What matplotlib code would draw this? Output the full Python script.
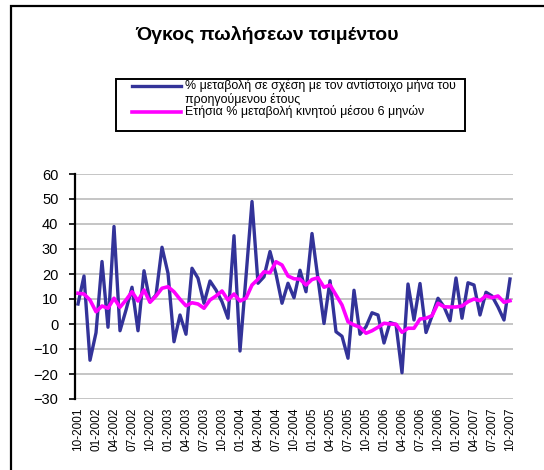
"""Cement sales volume chart (Greek), Excel-style line chart"""

import matplotlib
matplotlib.use('Agg')
import matplotlib.pyplot as plt
import matplotlib.patches as patches
from matplotlib.lines import Line2D
import numpy as np

plt.rcParams['font.family'] = ['Liberation Sans', 'DejaVu Sans']

# --- data -------------------------------------------------------------
title = 'Όγκος πωλήσεων τσιμέντου'
series_names = [
    '% μεταβολή σε σχέση με τον αντίστοιχο μήνα του\nπροηγούμενου έτους',
    'Ετήσια % μεταβολή κινητού μέσου 6 μηνών',
]

# one tick label every 3 months, 10-2001 .. 10-2007
tick_labels = [
    '10-2001', '01-2002', '04-2002', '07-2002', '10-2002', '01-2003',
    '04-2003', '07-2003', '10-2003', '01-2004', '04-2004', '07-2004',
    '10-2004', '01-2005', '04-2005', '07-2005', '10-2005', '01-2006',
    '04-2006', '07-2006', '10-2006', '01-2007', '04-2007', '07-2007',
    '10-2007',
]

# monthly % change vs same month of previous year
yoy_change = [
    8, 19.2, -14.5, -3.5, 25, -1.3, 39, -2.7, 5.6, 14.7,
    -2.7, 21.3, 8.9, 11.6, 30.7, 20.3, -7.1, 3.6, -4.1, 22.3,
    18.3, 8.3, 17.2, 13.6, 8.9, 2.3, 35.3, -10.8, 19, 49,
    16.3, 18.9, 29, 20, 8.3, 16.3, 10.5, 21.5, 12.9, 36.2,
    18, 0.2, 17.3, -3.1, -4.9, -13.7, 13.5, -4.1, -1.1, 4.5,
    3.6, -7.6, 0.6, -0.2, -19.5, 16, 1.6, 16.2, -3.4, 3.2,
    10.3, 6.9, 1.3, 18.4, 2.3, 16.5, 15.6, 3.6, 12.7, 11.2,
    6.8, 1.6, 18,
]

# annual % change of 6-month moving average
moving_avg = [
    12.3, 12, 9.6, 4.9, 7.2, 6.3, 10.3, 6.7, 9.6, 12.9,
    9.2, 13.6, 8.7, 11.2, 14.3, 14.9, 12.9, 9.9, 7.3, 8.5,
    8, 6.3, 9.6, 11.2, 13.2, 9.6, 12, 9.2, 10.3, 15.6,
    17.9, 20.9, 20.5, 24.9, 23.6, 19.2, 18.1, 17.9, 15.6, 17.8,
    18.5, 14.7, 15.6, 11.6, 7.6, 0.9, -0.4, -1.3, -3.7, -2.7,
    -1.3, 0.3, 0, -0.1, -3.3, -1.7, -1.7, 2, 2.3, 3.3,
    8.3, 6.9, 6.8, 6.8, 7.2, 8.9, 10, 9.3, 11.3, 10.5,
    11.2, 8.7, 9.3,
]

y_ticks = [-30, -20, -10, 0, 10, 20, 30, 40, 50, 60]

# --- figure -----------------------------------------------------------
W, H = 544, 470
fig = plt.figure(figsize=(W / 100, H / 100), dpi=100)


def fx(px):
    return px / W


def fy(py):
    return 1 - py / H


# outer chart frame (runs off the right and bottom edge)
fig.patches.append(patches.Rectangle((fx(11), fy(700)), 2, fy(6) - fy(700),
                                     transform=fig.transFigure, fill=False,
                                     edgecolor='black', linewidth=1.6))

fig.text(fx(267), fy(35), title, ha='center', va='center',
         fontsize=14, fontweight='bold')

# plot area
ax = fig.add_axes([fx(75), fy(399), fx(513) - fx(75), fy(174) - fy(399)])
x = np.arange(len(yoy_change))
ax.plot(x, yoy_change, color='#333399', linewidth=2.4, zorder=3)
ax.plot(x, moving_avg, color='#ff00ff', linewidth=2.6, zorder=4)

ax.set_xlim(-0.5, len(yoy_change) - 0.5)
ax.set_ylim(-30, 60)
ax.set_yticks(y_ticks)
ax.set_xticks(np.arange(0, len(yoy_change), 3))
ax.set_xticklabels(tick_labels, rotation=90, fontsize=8.5)
ax.tick_params(axis='x', length=0, pad=6)
ax.tick_params(axis='y', length=4, width=1.2, labelsize=10.5, pad=8)

ax.grid(axis='y', color='#c0c0c0', linewidth=1.3)
ax.set_axisbelow(True)
for side in ['top', 'right', 'bottom']:
    ax.spines[side].set_visible(False)
ax.spines['left'].set_linewidth(1.6)
ax.spines['left'].set_zorder(5)

# legend box, drawn by hand so the handle sits on the first text line
fig.patches.append(patches.Rectangle((fx(116), fy(131)), fx(465) - fx(116),
                                     fy(79) - fy(131), transform=fig.transFigure,
                                     fill=False, edgecolor='black', linewidth=1.4))
fig.lines.append(Line2D([fx(132), fx(181)], [fy(85.5), fy(85.5)],
                        transform=fig.transFigure, color='#333399', linewidth=2.4))
fig.lines.append(Line2D([fx(132), fx(181)], [fy(112), fy(112)],
                        transform=fig.transFigure, color='#ff00ff', linewidth=2.6))
fig.text(fx(185), fy(79.5), series_names[0], ha='left', va='top',
         fontsize=8.9, linespacing=1.0)
fig.text(fx(185), fy(112), series_names[1], ha='left', va='center', fontsize=8.9)

plt.savefig('out.png', dpi=100)
